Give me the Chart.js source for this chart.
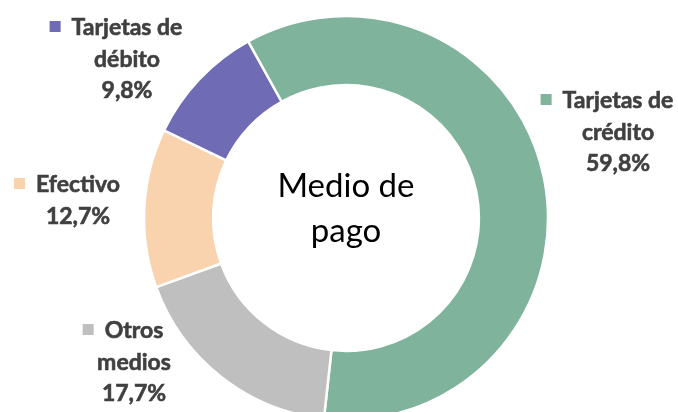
<!DOCTYPE html>
<html>
<head>
<meta charset="utf-8">
<script src="https://cdn.jsdelivr.net/npm/chart.js@4"></script>
<style>
  html, body { margin: 0; padding: 0; background: #ffffff; overflow: hidden; }
  #wrap { width: 678px; height: 412px; }
</style>
</head>
<body>
<div id="wrap"><canvas id="c" width="678" height="412"></canvas></div>
<script>
// Data
const categories = ["Tarjetas de crédito", "Otros medios", "Efectivo", "Tarjetas de débito"];
const labelLines = [["Tarjetas de", "crédito"], ["Otros", "medios"], ["Efectivo"], ["Tarjetas de", "débito"]];
const values = [59.8, 17.7, 12.7, 9.8];
const valueLabels = ["59,8%", "17,7%", "12,7%", "9,8%"];
const colors = ["#7fb39c", "#bfbfbf", "#f8d3ae", "#6f6bb4"];
const centerTitle = ["Medio de", "pago"];

// Layout of the outside labels (center x of text block, baseline of first line)
const labelPos = [
  { x: 618, y: 108 },
  { x: 134, y: 338 },
  { x: 78,  y: 192 },
  { x: 127, y: 35 }
];

const labelsPlugin = {
  id: 'outLabels',
  afterDatasetsDraw(chart) {
    const ctx = chart.ctx;
    ctx.save();
    ctx.font = 'bold 23px Lato';
    ctx.textAlign = 'center';
    ctx.textBaseline = 'alphabetic';
    const lh = 31.5;
    categories.forEach((cat, i) => {
      const p = labelPos[i];
      const lines = labelLines[i].concat([valueLabels[i]]);
      lines.forEach((ln, j) => {
        ctx.fillStyle = '#404040';
        ctx.fillText(ln, p.x, p.y + j * lh);
        ctx.lineWidth = 0.6;
        ctx.strokeStyle = '#404040';
        ctx.strokeText(ln, p.x, p.y + j * lh);
      });
      const w = ctx.measureText(lines[0]).width;
      ctx.fillStyle = colors[i];
      ctx.fillRect(p.x - w / 2 - 22, p.y - 14, 11, 11);
    });
    // center title
    const meta = chart.getDatasetMeta(0);
    const arc = meta.data[0];
    ctx.font = '33px Lato';
    ctx.fillStyle = '#000000';
    ctx.fillText(centerTitle[0], arc.x, arc.y - 21);
    ctx.fillText(centerTitle[1], arc.x, arc.y + 24);
    ctx.restore();
  }
};

new Chart(document.getElementById('c'), {
  type: 'doughnut',
  data: {
    labels: categories,
    datasets: [{
      data: values,
      backgroundColor: colors,
      borderColor: '#ffffff',
      borderWidth: 2.5,
      hoverOffset: 0,
      clip: false
    }]
  },
  options: {
    responsive: false,
    animation: false,
    events: [],
    rotation: -29,
    radius: 202,
    cutout: '65.8%',
    layout: { padding: { top: 24, bottom: 0, left: 14, right: 0 } },
    plugins: {
      legend: { display: false },
      tooltip: { enabled: false }
    }
  },
  plugins: [labelsPlugin]
});
</script>
</body>
</html>
